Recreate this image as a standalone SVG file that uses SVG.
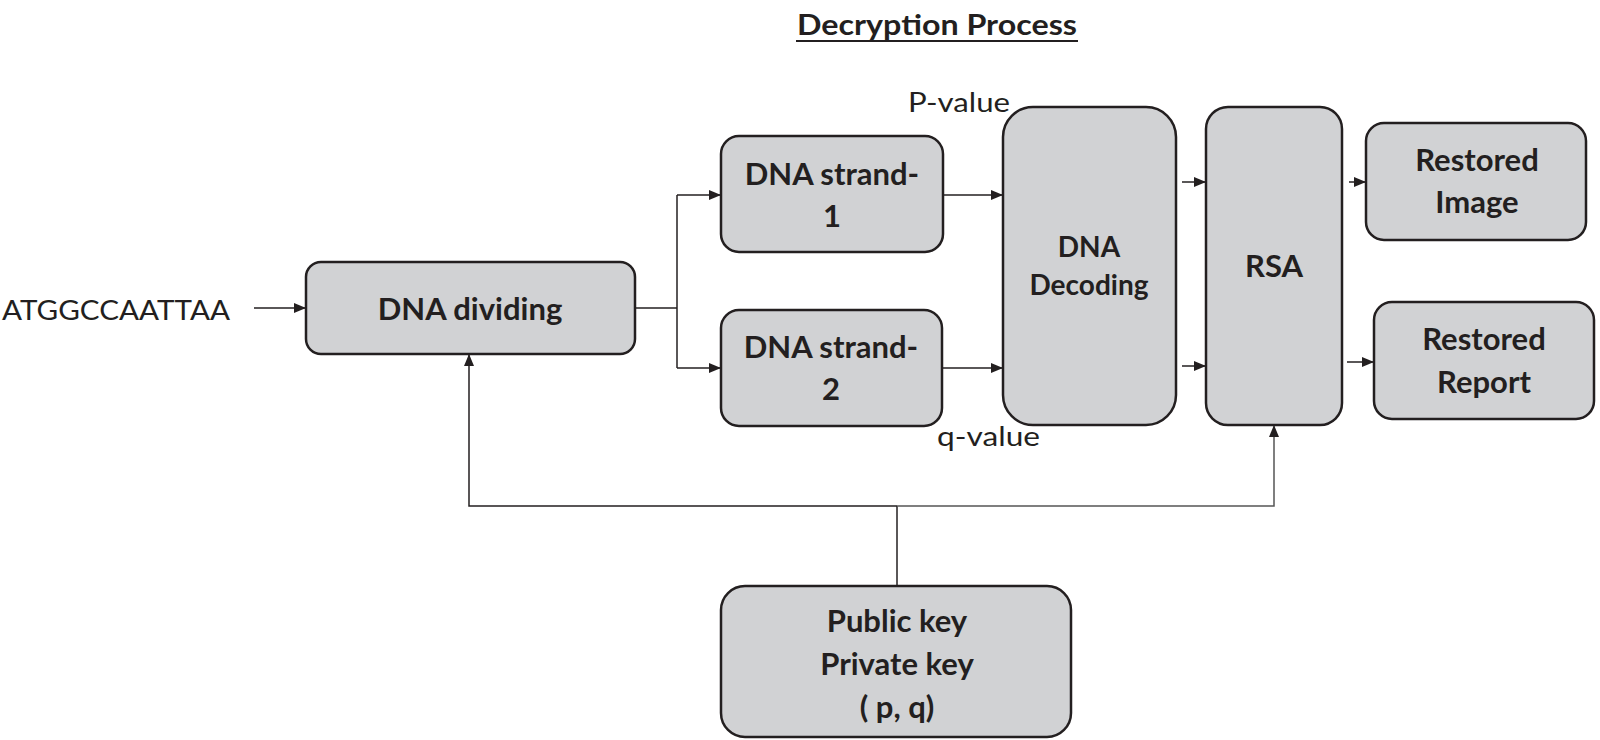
<svg xmlns="http://www.w3.org/2000/svg" width="1600" height="740" viewBox="0 0 1600 740">
<style>
.box{fill:#d1d2d4;stroke:#231f20;stroke-width:2.5}
.lb{font-family:Lato,"Open Sans",sans-serif;font-weight:bold;font-size:31px;fill:#231f20;text-anchor:middle}
.lr{font-family:Lato,"Open Sans",sans-serif;font-size:27px;fill:#231f20}
.c{fill:none;stroke:#231f20;stroke-width:1.5}
</style>
<defs>
<marker id="ah" markerWidth="12" markerHeight="10" refX="11" refY="5" orient="auto" markerUnits="userSpaceOnUse">
<path d="M0,0 L12,5 L0,10 Z" fill="#231f20"/>
</marker>
</defs>
<rect width="1600" height="740" fill="#fff"/>
<g id="title">
<text x="937" y="35" class="lb" style="font-size:29px" textLength="280" lengthAdjust="spacingAndGlyphs">Decryption Process</text>
<line x1="796" y1="41" x2="1078" y2="41" stroke="#231f20" stroke-width="2"/>
</g>
<g id="input"><text x="2" y="320" class="lr" textLength="228" lengthAdjust="spacingAndGlyphs">ATGGCCAATTAA</text></g>
<g id="dna-dividing"><rect class="box" x="306" y="262" width="329" height="92" rx="15"/><text x="470" y="320" class="lb">DNA dividing</text></g>
<g id="strand1"><rect class="box" x="721" y="136" width="222" height="116" rx="18"/><text x="832" y="185" class="lb">DNA strand-</text><text x="832" y="227" class="lb">1</text></g>
<g id="strand2"><rect class="box" x="721" y="310" width="221" height="116" rx="18"/><text x="831" y="358" class="lb">DNA strand-</text><text x="831" y="400" class="lb">2</text></g>
<g id="decoding"><rect class="box" x="1003" y="107" width="173" height="318" rx="30"/><text x="1089" y="257" class="lb" style="font-size:28px">DNA</text><text x="1089" y="295" class="lb" style="font-size:28px">Decoding</text></g>
<g id="rsa"><rect class="box" x="1206" y="107" width="136" height="318" rx="22"/><text x="1274" y="277" class="lb">RSA</text></g>
<g id="restored-image"><rect class="box" x="1366" y="123" width="220" height="117" rx="18"/><text x="1477" y="171" class="lb">Restored</text><text x="1477" y="213" class="lb">Image</text></g>
<g id="restored-report"><rect class="box" x="1374" y="302" width="220" height="117" rx="18"/><text x="1484" y="350" class="lb">Restored</text><text x="1484" y="393" class="lb">Report</text></g>
<g id="keys"><rect class="box" x="721" y="586" width="350" height="151" rx="24"/><text x="897" y="632" class="lb">Public key</text><text x="897" y="675" class="lb">Private key</text><text x="897" y="718" class="lb">( p, q)</text></g>
<g id="labels">
<text x="908" y="112" class="lr" textLength="102" lengthAdjust="spacingAndGlyphs">P-value</text>
<text x="937" y="446" class="lr" textLength="103" lengthAdjust="spacingAndGlyphs">q-value</text>
</g>
<g id="connectors">
<line class="c" x1="254" y1="308" x2="305" y2="308" marker-end="url(#ah)"/>
<polyline class="c" points="635,308 677,308"/>
<polyline class="c" points="677,195 677,368"/>
<line class="c" x1="677" y1="195" x2="720" y2="195" marker-end="url(#ah)"/>
<line class="c" x1="677" y1="368" x2="720" y2="368" marker-end="url(#ah)"/>
<line class="c" x1="943" y1="195" x2="1002" y2="195" marker-end="url(#ah)"/>
<line class="c" x1="942" y1="368" x2="1002" y2="368" marker-end="url(#ah)"/>
<line class="c" x1="1182" y1="182" x2="1205" y2="182" marker-end="url(#ah)"/>
<line class="c" x1="1182" y1="366" x2="1205" y2="366" marker-end="url(#ah)"/>
<line class="c" x1="1349" y1="182" x2="1365" y2="182" marker-end="url(#ah)"/>
<line class="c" x1="1347" y1="362" x2="1373" y2="362" marker-end="url(#ah)"/>
<line class="c" x1="897" y1="586" x2="897" y2="506"/>
<polyline class="c" points="897,506 469,506 469,355" marker-end="url(#ah)"/>
<polyline class="c" points="897,506 1274,506 1274,426" marker-end="url(#ah)" style="stroke:#555"/>
</g>
</svg>
